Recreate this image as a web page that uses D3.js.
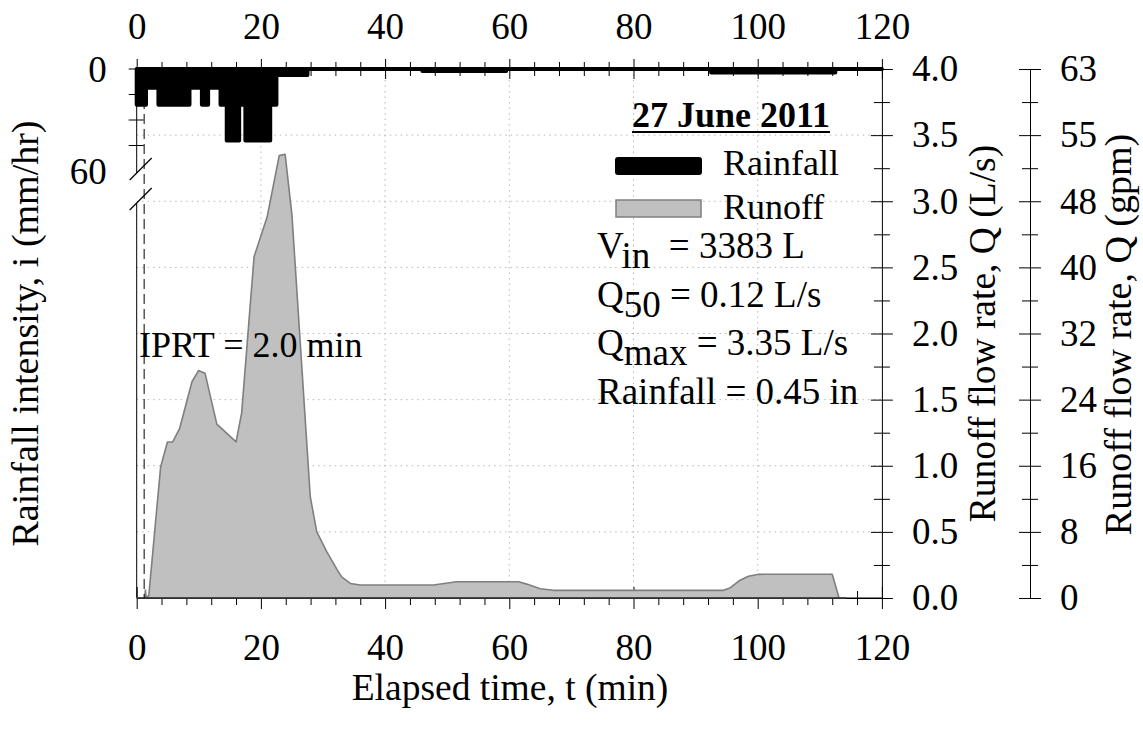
<!DOCTYPE html>
<html>
<head>
<meta charset="utf-8">
<script src="https://cdn.jsdelivr.net/npm/d3@7"></script>
<style>
  html, body { margin: 0; padding: 0; background: #fff; }
  svg { display: block; font-family: "Liberation Serif", "Times New Roman", serif; }
</style>
</head>
<body>
<svg id="chart" width="1143" height="731"></svg>
<script>
// Rainfall hyetograph: step starts (min) and intensities (mm/hr)
const rainTime = [0, 1.5, 3.5, 8.5, 10.5, 11.5, 13.5, 14.5, 16.5, 17.5, 21.5, 22.5, 27.5, 46, 59.5, 92.5, 112.5, 120];
const rainRate = [21, 11, 21, 11, 21, 11, 21, 42, 21, 42, 21, 3.5, 0, 1.2, 0, 2.0, 0, 0];

// Runoff hydrograph: elapsed time (min) and flow rate (L/s)
const flowTime = [0, 1.3, 1.4, 1.55, 1.95, 3.85, 4.95, 5.8, 6.9, 8.9, 9.95, 11.0, 12.9, 16.0, 16.9, 18.9, 21.0, 22.95, 23.9, 25.0, 27.95, 29.0, 30.6, 32.2, 33.0, 34.4, 36.0, 47.8, 49.5, 51.5, 61.5, 62.8, 65.0, 67.1, 94.5, 95.6, 97.0, 98.5, 100.2, 112.0, 113.1, 114.2];
const flowRate = [0, 0, 0.06, 0, 0.02, 0.99, 1.18, 1.18, 1.28, 1.635, 1.72, 1.70, 1.315, 1.18, 1.40, 2.58, 2.88, 3.345, 3.355, 2.895, 0.766, 0.50, 0.35, 0.22, 0.16, 0.11, 0.098, 0.098, 0.11, 0.123, 0.123, 0.105, 0.07, 0.058, 0.058, 0.078, 0.13, 0.165, 0.179, 0.18, 0, 0];

// Axis ticks and labels
const timeTicks = [0, 20, 40, 60, 80, 100, 120];
const flowTicks = [0, 0.5, 1.0, 1.5, 2.0, 2.5, 3.0, 3.5, 4.0];
const gpmTickLabels = ["0", "8", "16", "24", "32", "40", "48", "55", "63"];
const rainTicks = [0, 15, 30, 45];
const rainTickLabels = [["0", 0], ["60", 60]];
const LPS_TO_GPM = 15.850;

// Event summary
const eventTitle = "27 June 2011";
const initialResponse = 1.2;   // dashed marker position (min)
const iprtText = "IPRT = 2.0 min";

const svg = d3.select("#chart");
const FS = 37;        // tick labels
const FS_TITLE = 37.5; // axis titles

const x = d3.scaleLinear().domain([0, 120]).range([136.7, 881.9]);
const qY = d3.scaleLinear().domain([0, 4]).range([598, 69]);
const gpmY = d3.scaleLinear().domain([0, 4 * LPS_TO_GPM]).range([598, 69]);
const rainY = d3.scaleLinear().domain([0, 60]).range([69, 171]);

const plotL = x(0), plotR = x(120), plotT = qY(4), plotB = qY(0);

// dotted grid
const grid = svg.append("g").attr("stroke", "#b8b8b8").attr("stroke-width", 1).attr("stroke-dasharray", "1.5,4");
timeTicks.filter(t => t > 0 && t < 120).forEach(t => {
  grid.append("line").attr("x1", x(t)).attr("x2", x(t)).attr("y1", plotT).attr("y2", plotB);
});
flowTicks.filter(q => q > 0 && q < 4).forEach(q => {
  grid.append("line").attr("x1", plotL).attr("x2", plotR).attr("y1", qY(q)).attr("y2", qY(q));
});

// ticks that cross the axis line
function crossTicks(g, horizontal, majorLen, minorLen, isMajor) {
  g.selectAll(".tick line")
    .attr(horizontal ? "y1" : "x1", (d, i) => -(isMajor(d, i) ? majorLen : minorLen))
    .attr(horizontal ? "y2" : "x2", (d, i) => (isMajor(d, i) ? majorLen : minorLen));
}
function styleLabels(g) {
  g.selectAll(".tick text").attr("font-size", FS).attr("font-family", "Liberation Serif").attr("fill", "#000");
}

// bottom time axis
const minorTime = d3.range(0, 121, 4);
const gBottom = svg.append("g").attr("transform", `translate(0,${plotB})`)
  .call(d3.axisBottom(x).tickValues(minorTime).tickSizeOuter(0)
    .tickFormat(d => timeTicks.includes(d) ? d : ""));
crossTicks(gBottom, true, 11, 7, d => timeTicks.includes(d));
styleLabels(gBottom);
gBottom.selectAll(".tick text").attr("y", 36);

// top time axis
const gTop = svg.append("g").attr("transform", `translate(0,${plotT})`)
  .call(d3.axisTop(x).tickValues(minorTime).tickSizeOuter(0)
    .tickFormat(d => timeTicks.includes(d) ? d : ""));
crossTicks(gTop, true, 10, 7, d => timeTicks.includes(d));
styleLabels(gTop);
gTop.selectAll(".tick text").attr("y", -30);

// right flow axis (L/s)
const minorFlow = d3.range(0, 17).map(i => i * 0.25);
const gRight = svg.append("g").attr("transform", `translate(${plotR},0)`)
  .call(d3.axisRight(qY).tickValues(minorFlow).tickSizeOuter(0)
    .tickFormat(d => flowTicks.includes(d) ? d3.format(".1f")(d) : ""));
crossTicks(gRight, false, 11, 8, d => flowTicks.includes(d));
styleLabels(gRight);
gRight.selectAll(".tick text").attr("x", 30);

// second flow axis (gpm)
const gpmX = 1030;
const gpmMinor = minorFlow.map(q => q * LPS_TO_GPM);
const gGpm = svg.append("g").attr("transform", `translate(${gpmX},0)`)
  .call(d3.axisRight(gpmY).tickValues(gpmMinor).tickSizeOuter(0)
    .tickFormat((d, i) => i % 2 === 0 ? gpmTickLabels[i / 2] : ""));
crossTicks(gGpm, false, 11, 8, (d, i) => i % 2 === 0);
styleLabels(gGpm);
gGpm.selectAll(".tick text").attr("x", 30);

// left rainfall axis (broken)
const breakTop = 173, breakBottom = 203;
const gLeft = svg.append("g");
gLeft.append("line").attr("x1", plotL).attr("x2", plotL).attr("y1", plotT).attr("y2", breakTop).attr("stroke", "#000");
gLeft.append("line").attr("x1", plotL).attr("x2", plotL).attr("y1", breakBottom).attr("y2", plotB).attr("stroke", "#000");
rainTicks.forEach(v => {
  gLeft.append("line").attr("x1", plotL - 8).attr("x2", plotL + 7)
    .attr("y1", rainY(v)).attr("y2", rainY(v)).attr("stroke", "#000");
});
rainTickLabels.forEach(([lab, v]) => {
  gLeft.append("text").attr("x", plotL - 30).attr("y", rainY(v)).attr("dy", "0.35em")
    .attr("text-anchor", "end").attr("font-size", FS).text(lab);
});
[169, 199].forEach(cy => {
  gLeft.append("line").attr("x1", plotL - 7).attr("y1", cy + 11).attr("x2", plotL + 15).attr("y2", cy - 11)
    .attr("stroke", "#000").attr("stroke-width", 1.2);
});

// rainfall step area hanging from the top
const rainPts = rainTime.map((t, i) => ({ t, v: rainRate[i] }));
svg.append("path")
  .datum(rainPts)
  .attr("d", d3.area().curve(d3.curveStepAfter).x(d => x(d.t)).y0(rainY(0)).y1(d => rainY(d.v)))
  .attr("fill", "#000").attr("stroke", "#000").attr("stroke-width", 4).attr("stroke-linejoin", "round");

// runoff hydrograph area
const flowPts = flowTime.map((t, i) => ({ t, q: flowRate[i] }));
svg.append("path")
  .datum(flowPts)
  .attr("d", d3.area().x(d => x(d.t)).y0(qY(0)).y1(d => qY(d.q)))
  .attr("fill", "#c0c0c0").attr("stroke", "#7f7f7f").attr("stroke-width", 1.6).attr("stroke-linejoin", "round");

// bottom baseline redrawn over the fill
svg.append("line").attr("x1", plotL).attr("x2", plotR).attr("y1", plotB).attr("y2", plotB).attr("stroke", "#000");

// initial response marker
svg.append("line").attr("x1", x(initialResponse)).attr("x2", x(initialResponse))
  .attr("y1", plotT).attr("y2", plotB).attr("stroke", "#000").attr("stroke-width", 1)
  .attr("stroke-dasharray", "10,5");

svg.append("text").attr("x", 139).attr("y", 357).attr("font-size", 36).text(iprtText);

// axis titles
const midY = (plotT + plotB) / 2;
svg.append("text").attr("x", 510).attr("y", 700).attr("text-anchor", "middle").attr("font-size", FS_TITLE)
  .text("Elapsed time, t (min)");
svg.append("text").attr("transform", `translate(38,${midY}) rotate(-90)`)
  .attr("text-anchor", "middle").attr("font-size", 38).text("Rainfall intensity, i (mm/hr)");
svg.append("text").attr("transform", `translate(995,${midY}) rotate(-90)`)
  .attr("text-anchor", "middle").attr("font-size", FS_TITLE).text("Runoff flow rate, Q (L/s)");
svg.append("text").attr("transform", `translate(1131,${midY + 1}) rotate(-90)`)
  .attr("text-anchor", "middle").attr("font-size", 38).text("Runoff flow rate, Q (gpm)");

// legend
const titleText = svg.append("text").attr("x", 731).attr("y", 127).attr("text-anchor", "middle")
  .attr("font-size", 36).attr("font-weight", "bold").text(eventTitle);
const tw = titleText.node().getComputedTextLength();
svg.append("line").attr("x1", 731 - tw / 2).attr("x2", 731 + tw / 2).attr("y1", 132).attr("y2", 132)
  .attr("stroke", "#000").attr("stroke-width", 2.2);

svg.append("rect").attr("x", 616).attr("y", 158).attr("width", 85).attr("height", 16).attr("rx", 2)
  .attr("fill", "#000").attr("stroke", "#000").attr("stroke-width", 2);
svg.append("text").attr("x", 723).attr("y", 175).attr("font-size", 36).text("Rainfall");
svg.append("rect").attr("x", 616).attr("y", 200).attr("width", 85).attr("height", 17)
  .attr("fill", "#c0c0c0").attr("stroke", "#7f7f7f").attr("stroke-width", 1.5);
svg.append("text").attr("x", 723).attr("y", 219).attr("font-size", 36).text("Runoff");

// event statistics
const stats = [
  { main: "V", sub: "in", rest: "  = 3383 L", y: 258 },
  { main: "Q", sub: "50", rest: " = 0.12 L/s", y: 307 },
  { main: "Q", sub: "max", rest: " = 3.35 L/s", y: 355 },
  { main: "Rainfall = 0.45 in", sub: "", rest: "", y: 404 }
];
stats.forEach(s => {
  const t = svg.append("text").attr("x", 597).attr("y", s.y).attr("font-size", 37)
    .style("white-space", "pre");
  t.append("tspan").text(s.main);
  if (s.sub) {
    t.append("tspan").attr("dy", 10).text(s.sub);
    t.append("tspan").attr("dy", -10).text(s.rest);
  }
});
</script>
</body>
</html>
